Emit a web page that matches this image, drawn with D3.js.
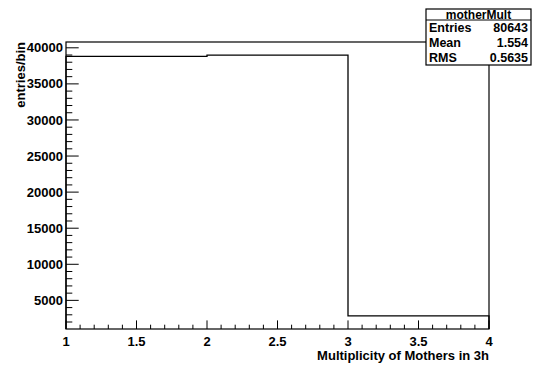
<!DOCTYPE html>
<html>
<head>
<meta charset="utf-8">
<script src="https://cdn.jsdelivr.net/npm/d3@7"></script>
<style>
  body { margin: 0; background: #fff; }
  svg { display: block; font-family: "Liberation Sans", Arial, sans-serif; font-weight: bold; }
</style>
</head>
<body>
<svg id="chart" width="541" height="367"></svg>
<script>
// histogram "motherMult": bin edges and counts
const binEdges = [1, 2, 3, 4];
const binCounts = [38807, 38996, 2840];
const xTicks = [1, 1.5, 2, 2.5, 3, 3.5, 4];
const yTicks = [5000, 10000, 15000, 20000, 25000, 30000, 35000, 40000];
const statLabels = ["Entries", "Mean", "RMS"];
const statValues = ["80643", "1.554", "0.5635"];

const svg = d3.select("#chart");
const padL = 66, padR = 489, padT = 42, padB = 329;

const x = d3.scaleLinear().domain([1, 4]).range([padL, padR]);
const y = d3.scaleLinear().domain([1032, 40804]).range([padB, padT]);

// histogram outline
const pts = [[binEdges[0], y.domain()[0]]];
binCounts.forEach((c, i) => {
  pts.push([binEdges[i], c]);
  pts.push([binEdges[i + 1], c]);
});
pts.push([binEdges[binEdges.length - 1], y.domain()[0]]);
svg.append("path")
  .attr("d", d3.line().x(d => x(d[0])).y(d => y(d[1]))(pts))
  .attr("fill", "none")
  .attr("stroke", "#000")
  .attr("stroke-width", 1.3);

// frame
svg.append("rect")
  .attr("x", padL).attr("y", padT)
  .attr("width", padR - padL).attr("height", padB - padT)
  .attr("fill", "none").attr("stroke", "#000").attr("stroke-width", 1.2);

// x axis ticks
const xMinor = d3.range(10, 41).map(d => d / 10);
svg.append("g").selectAll("line").data(xMinor).join("line")
  .attr("x1", d => x(d)).attr("x2", d => x(d))
  .attr("y1", padB)
  .attr("y2", d => padB - (Math.abs(d * 2 - Math.round(d * 2)) < 1e-6 ? 8.6 : 4.3))
  .attr("stroke", "#000").attr("stroke-width", 1);

svg.append("g").selectAll("text").data(xTicks).join("text")
  .attr("x", d => x(d)).attr("y", 346)
  .attr("text-anchor", "middle")
  .attr("font-size", 13)
  .text(d => d3.format("")(d));

svg.append("text")
  .attr("x", padR).attr("y", 360)
  .attr("text-anchor", "end")
  .attr("font-size", 13)
  .text("Multiplicity of Mothers in 3h");

// y axis ticks
const yMinor = d3.range(2000, 41000, 1000);
svg.append("g").selectAll("line").data(yMinor).join("line")
  .attr("x1", padL)
  .attr("x2", d => padL + (d % 5000 === 0 ? 12.7 : 6.3))
  .attr("y1", d => y(d)).attr("y2", d => y(d))
  .attr("stroke", "#000").attr("stroke-width", 1);

svg.append("g").selectAll("text").data(yTicks).join("text")
  .attr("x", 63).attr("y", d => y(d) + 4.6)
  .attr("text-anchor", "end")
  .attr("font-size", 13)
  .text(d => d);

svg.append("text")
  .attr("transform", `translate(25,${padT}) rotate(-90)`)
  .attr("text-anchor", "end")
  .attr("font-size", 13)
  .text("entries/bin");

// stats box
const bx = 426, by = 9, bw = 105, bh = 56, hh = 11;
const box = svg.append("g");
box.append("rect")
  .attr("x", bx).attr("y", by).attr("width", bw).attr("height", bh)
  .attr("fill", "#fff").attr("stroke", "#000").attr("stroke-width", 1.2);
box.append("line")
  .attr("x1", bx).attr("x2", bx + bw)
  .attr("y1", by + hh).attr("y2", by + hh)
  .attr("stroke", "#000").attr("stroke-width", 1);
box.append("text")
  .attr("x", bx + bw / 2).attr("y", by + 9.5)
  .attr("text-anchor", "middle").attr("font-size", 12)
  .text("motherMult");
const rowH = (bh - hh) / statLabels.length;
box.selectAll("text.lab").data(statLabels).join("text")
  .attr("class", "lab")
  .attr("x", bx + 3).attr("y", (d, i) => by + hh + rowH * (i + 0.5) + 4.3)
  .attr("font-size", 12.5)
  .text(d => d);
box.selectAll("text.val").data(statValues).join("text")
  .attr("class", "val")
  .attr("x", bx + bw - 3).attr("y", (d, i) => by + hh + rowH * (i + 0.5) + 4.3)
  .attr("text-anchor", "end")
  .attr("font-size", 12.5)
  .text(d => d);
</script>
</body>
</html>
